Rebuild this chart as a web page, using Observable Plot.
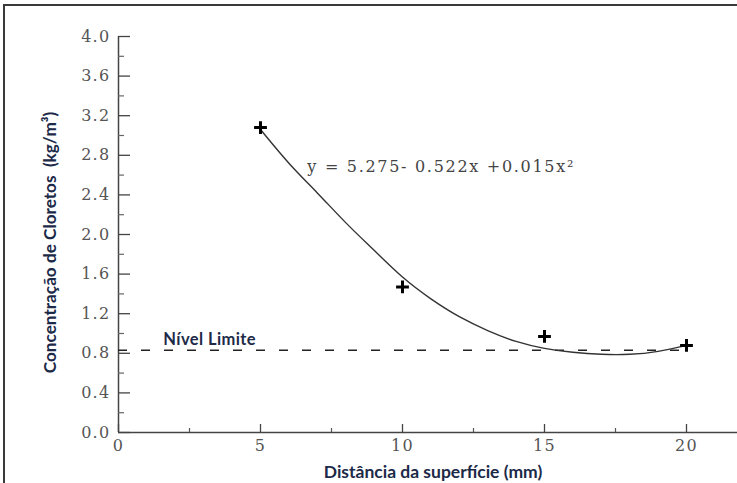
<!DOCTYPE html>
<html>
<head>
<meta charset="utf-8">
<script src="https://cdn.jsdelivr.net/npm/d3@7"></script>
<script src="https://cdn.jsdelivr.net/npm/@observablehq/plot@0.6"></script>
<style>
  html, body { margin: 0; padding: 0; background: #fff; }
  #wrap { position: relative; width: 737px; height: 483px; overflow: hidden; }
  #border { position: absolute; left: 3px; top: 4px; width: 800px; height: 600px;
            border-top: 2px solid #3a3a3a; border-left: 2px solid #3a3a3a; pointer-events: none; }
  .serif-tick text { font-family: "DejaVu Serif", "Liberation Serif", serif !important; letter-spacing: 1.3px; }
</style>
</head>
<body>
<div id="wrap"><div id="border"></div></div>
<script>
// Measured points (distance mm, chloride kg/m3)
const distance = [5, 10, 15, 20];
const concentration = [3.08, 1.47, 0.97, 0.88];

// Fitted curve
const curveX = [5, 6, 7, 8, 9, 10, 11, 12, 13, 14, 15, 16, 17, 18, 19, 20];
const curveY = [3.06, 2.72, 2.42, 2.12, 1.84, 1.57, 1.35, 1.17, 1.03, 0.92, 0.85, 0.81, 0.79, 0.79, 0.82, 0.88];

// Limit level
const limitLevel = 0.83;
const limitRange = [0, 20];

// Ticks
const xMajor = [0, 5, 10, 15, 20];
const xMinor = [2.5, 7.5, 12.5, 17.5];
const yMajor = [0, 0.4, 0.8, 1.2, 1.6, 2.0, 2.4, 2.8, 3.2, 3.6, 4.0];
const yMinor = [0.2, 0.6, 1.0, 1.4, 1.8, 2.2, 2.6, 3.0, 3.4, 3.8];

// Texts
const xLabel = "Distância da superfície (mm)";
const yLabel = "Concentração de Cloretos  (kg/m³)";
const equation = ["y = 5.275- 0.522x +0.015x²"];
const equationPos = [6.65, 2.63];
const limitLabel = ["Nível Limite"];
const limitLabelPos = [1.58, 0.88];

const points = distance.map((d, i) => ({x: d, y: concentration[i]}));
const curve = curveX.map((d, i) => ({x: d, y: curveY[i]}));

const tickFont = "DejaVu Serif, Liberation Serif, serif";
const labelFont = "Lato, Open Sans, sans-serif";
const labelColor = "#1c2a48";

const chart = Plot.plot({
  width: 737,
  height: 483,
  marginLeft: 118,
  marginRight: 0,
  marginTop: 36,
  marginBottom: 51,
  x: {domain: [0, 619 / 28.4]},
  y: {domain: [0, 4]},
  style: {background: "transparent", overflow: "visible", fontSize: "16px"},
  marks: [
    // axis lines
    Plot.ruleX([0], {stroke: "#444", strokeWidth: 1.5}),
    Plot.ruleY([0], {stroke: "#444", strokeWidth: 1.5}),
    // y ticks (inward) and labels
    Plot.axisY({ticks: yMajor, tickSize: -12, tickPadding: 20, tickFormat: d => d.toFixed(1),
                fontSize: 16, fill: "#555", stroke: "#444", strokeWidth: 1.3, label: null}),
    Plot.axisY({ticks: yMinor, tickSize: -6, tickFormat: () => "", stroke: "#666", strokeWidth: 1.2, label: null}),
    // x ticks (inward) and labels
    Plot.axisX({ticks: xMajor, tickSize: -8, tickPadding: 15, tickFormat: d => String(d),
                fontSize: 16, fill: "#555", stroke: "#444", strokeWidth: 1.3, label: null}),
    Plot.axisX({ticks: xMinor, tickSize: -4, tickFormat: () => "", stroke: "#555", strokeWidth: 1.2, label: null}),
    // limit line
    Plot.ruleY([limitLevel], {x1: limitRange[0], x2: limitRange[1], stroke: "#222", strokeWidth: 1.5, strokeDasharray: "9,14"}),
    // fitted curve
    Plot.line(curve, {x: "x", y: "y", curve: "natural", stroke: "#333", strokeWidth: 1.4}),
    // data points
    Plot.dot(points, {x: "x", y: "y", symbol: "plus", r: 4.2, stroke: "#000", strokeWidth: 3}),
    // equation
    Plot.text(equation, {x: () => equationPos[0], y: () => equationPos[1], text: d => d, textAnchor: "start",
                         lineAnchor: "bottom", fontSize: 16, fontFamily: tickFont, fill: "#444"}),
    // limit label
    Plot.text(limitLabel, {x: () => limitLabelPos[0], y: () => limitLabelPos[1], text: d => d, textAnchor: "start",
                           lineAnchor: "bottom", fontSize: 16.5, fontWeight: 700, fontFamily: labelFont, fill: labelColor}),
    // axis labels
    Plot.text([xLabel], {frameAnchor: "bottom", dx: 5, dy: 45, text: d => d, textAnchor: "middle", lineAnchor: "bottom",
                         fontSize: 17.5, fontWeight: 700, fontFamily: labelFont, fill: labelColor}),
    Plot.text([yLabel], {frameAnchor: "left", dx: -68, dy: 8, rotate: -90, text: d => d, textAnchor: "middle", lineAnchor: "middle",
                         fontSize: 17.2, fontWeight: 700, fontFamily: labelFont, fill: labelColor})
  ]
});

const svg = d3.select(chart);
// serif tick labels, set wide as in the reference
svg.selectAll("g[aria-label='y-axis tick label'], g[aria-label='x-axis tick label']")
  .classed("serif-tick", true)
  .attr("font-family", tickFont);
svg.selectAll("text")
  .filter(function() { return this.textContent === equation[0]; })
  .style("letter-spacing", "1.7px");
svg.selectAll("text")
  .filter(function() { return this.textContent === limitLabel[0]; })
  .style("letter-spacing", "0.4px");

document.getElementById("wrap").prepend(chart);
</script>
</body>
</html>
